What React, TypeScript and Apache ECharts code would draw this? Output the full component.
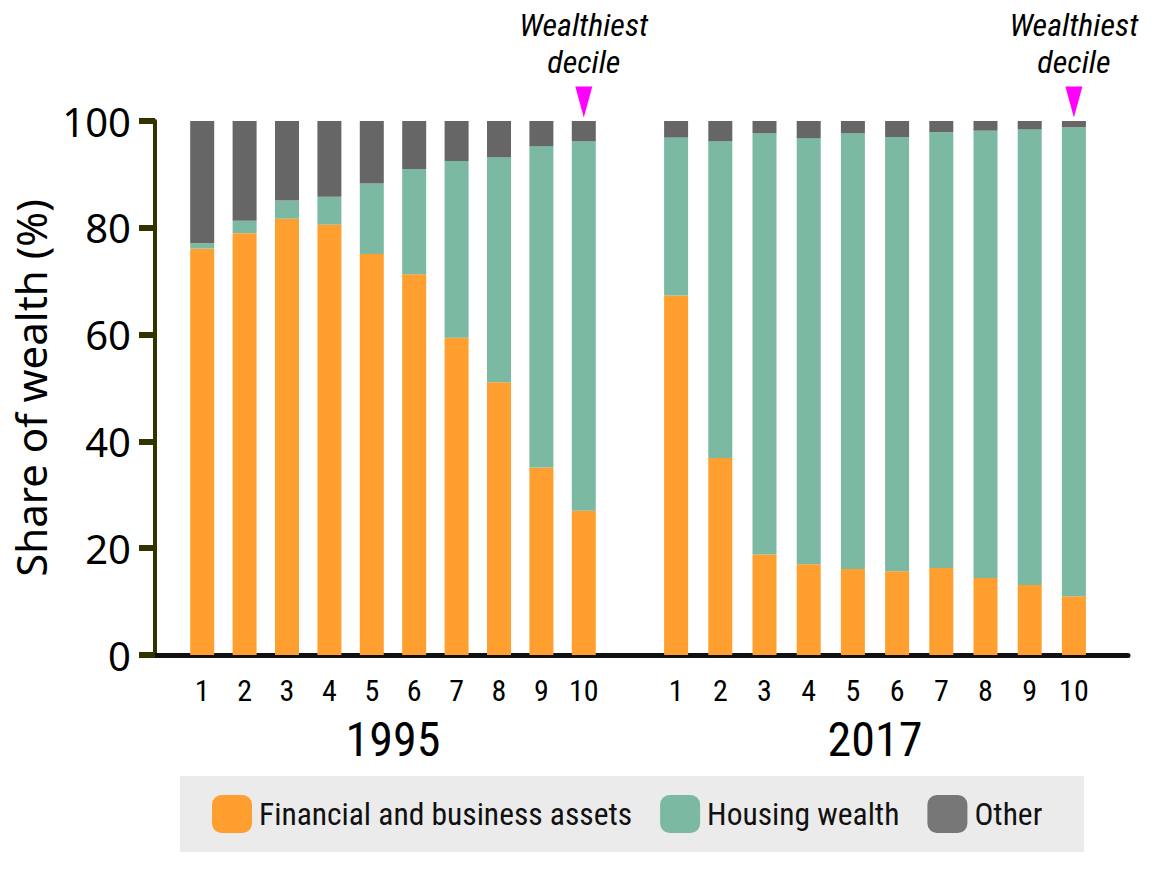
import React, { useEffect, useRef } from "react";
import * as echarts from "echarts";

const deciles = ["1", "2", "3", "4", "5", "6", "7", "8", "9", "10"];
const years = ["1995", "2017"];
const seriesNames = ["Financial and business assets", "Housing wealth", "Other"];

const financial1995 = [76.1, 79.0, 81.7, 80.6, 75.1, 71.3, 59.4, 51.1, 35.1, 27.0];
const housing1995 = [1.0, 2.3, 3.4, 5.2, 13.2, 19.7, 33.1, 42.1, 60.2, 69.2];
const other1995 = [22.9, 18.7, 14.9, 14.2, 11.7, 9.0, 7.5, 6.8, 4.7, 3.8];

const financial2017 = [67.3, 36.9, 18.8, 17.0, 16.1, 15.7, 16.3, 14.4, 13.1, 11.0];
const housing2017 = [29.6, 59.3, 78.9, 79.8, 81.6, 81.3, 81.6, 83.8, 85.3, 87.8];
const other2017 = [3.1, 3.8, 2.3, 3.2, 2.3, 3.0, 2.1, 1.8, 1.6, 1.2];

const yTicks = [0, 20, 40, 60, 80, 100];
const annotationText = "Wealthiest\ndecile";

const COLORS = ["#ff9f2f", "#7bb9a3", "#666666"];
const LEGEND_OTHER = "#777777";
const MAIN_FONT = "'Noto Sans', 'Open Sans', sans-serif";
const NARROW_FONT = "'Liberation Sans Narrow', 'Roboto Condensed', 'Noto Sans', sans-serif";

export default function App() {
  const ref = useRef<HTMLDivElement>(null);

  useEffect(() => {
    if (!ref.current) return;
    const chart = echarts.init(ref.current, undefined, { renderer: "svg" });

    const top = 121;
    const bottom = 879 - 655;

    const makeSeries = (gridIdx: number, stack: string, vals: number[][]) =>
      vals.map((v, i) => ({
        name: seriesNames[i],
        type: "bar",
        stack,
        xAxisIndex: gridIdx,
        yAxisIndex: gridIdx,
        barWidth: 24,
        data: v,
        itemStyle: { color: COLORS[i] },
        markPoint:
          i === 2
            ? {
                symbol: "triangle",
                symbolRotate: 180,
                symbolSize: [17, 31],
                symbolOffset: [0, -19],
                itemStyle: { color: "#ff00ff" },
                label: {
                  show: true,
                  position: "top",
                  distance: 6,
                  formatter: annotationText,
                  fontFamily: NARROW_FONT,
                  fontStyle: "italic",
                  fontWeight: "normal",
                  fontSize: 32,
                  lineHeight: 37,
                  color: "#000",
                },
                data: [{ coord: ["10", yTicks[yTicks.length - 1]] }],
              }
            : undefined,
      }));

    chart.setOption({
      animation: false,
      backgroundColor: "#ffffff",
      textStyle: { fontFamily: MAIN_FONT },
      grid: [
        { left: 155, right: 36, top, bottom },
        { left: 181, width: 424, top, bottom },
        { left: 654, width: 442, top, bottom },
      ],
      legend: {
        left: 180,
        top: 776,
        padding: [19, 42, 19, 32],
        backgroundColor: "#ebebeb",
        itemWidth: 40,
        itemHeight: 38,
        itemGap: 28,
        icon: "roundRect",
        textStyle: { fontFamily: NARROW_FONT, fontSize: 31.5, color: "#111", padding: [0, 0, 0, 2] },
        data: [
          { name: seriesNames[0], itemStyle: { color: COLORS[0] } },
          { name: seriesNames[1], itemStyle: { color: COLORS[1] } },
          { name: seriesNames[2], itemStyle: { color: LEGEND_OTHER } },
        ],
        selectedMode: false,
      },
      xAxis: [
        {
          gridIndex: 0,
          type: "value",
          min: 0,
          max: 1,
          axisLine: { show: true, lineStyle: { color: "#111", width: 5 } },
          axisTick: { show: false },
          axisLabel: { show: false },
          splitLine: { show: false },
        },
        {
          gridIndex: 1,
          type: "category",
          data: deciles,
          name: years[0],
          nameLocation: "middle",
          nameGap: 60,
          nameTextStyle: { fontFamily: NARROW_FONT, fontSize: 48, color: "#000" },
          axisLine: { show: false },
          axisTick: { show: false },
          axisLabel: { fontFamily: NARROW_FONT, fontSize: 30, color: "#000", margin: 20 },
        },
        {
          gridIndex: 2,
          type: "category",
          data: deciles,
          name: years[1],
          nameLocation: "middle",
          nameGap: 60,
          nameTextStyle: { fontFamily: NARROW_FONT, fontSize: 48, color: "#000" },
          axisLine: { show: false },
          axisTick: { show: false },
          axisLabel: { fontFamily: NARROW_FONT, fontSize: 30, color: "#000", margin: 20 },
        },
      ],
      yAxis: [
        {
          gridIndex: 0,
          type: "value",
          min: yTicks[0],
          max: yTicks[yTicks.length - 1],
          interval: 20,
          name: "Share of wealth (%)",
          nameLocation: "middle",
          nameRotate: 90,
          nameGap: 78,
          nameTextStyle: { fontFamily: MAIN_FONT, fontSize: 42, color: "#000" },
          axisLine: { show: true, lineStyle: { color: "#333300", width: 4 } },
          axisTick: { show: true, length: 16, lineStyle: { color: "#333300", width: 6 } },
          axisLabel: { fontFamily: MAIN_FONT, fontSize: 40, color: "#000", margin: 24 },
          splitLine: { show: false },
        },
        { gridIndex: 1, type: "value", min: 0, max: 100, show: false },
        { gridIndex: 2, type: "value", min: 0, max: 100, show: false },
      ],
      series: [
        ...makeSeries(1, "y1995", [financial1995, housing1995, other1995]),
        ...makeSeries(2, "y2017", [financial2017, housing2017, other2017]),
      ],
    });

    return () => chart.dispose();
  }, []);

  return (
    <div
      ref={ref}
      style={{ position: "fixed", left: 0, top: 0, width: 1164, height: 879 }}
    />
  );
}
